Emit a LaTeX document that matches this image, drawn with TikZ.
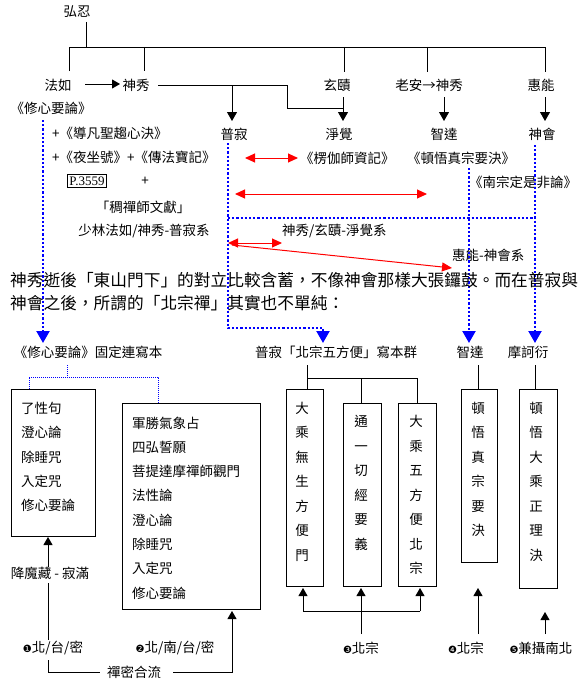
\documentclass[tikz,border=0pt]{standalone}
\usepackage{fontspec}
\setmainfont{Noto Sans CJK TC}
\newfontfamily\djv{DejaVu Sans}
\newfontfamily\tms{Liberation Serif}
\usetikzlibrary{arrows.meta}
\newcommand\cnum[1]{{\djv\fontsize{10}{12}\selectfont #1}}
\begin{document}
\begin{tikzpicture}[x=1pt,y=-1pt,
  lbl/.style={inner sep=0pt, font=\fontsize{13.5}{15}\selectfont},
  lblw/.style={lbl, anchor=west},
  para/.style={inner sep=0pt, anchor=west, font=\fontsize{16.7}{20}\selectfont},
  ln/.style={draw=black, line width=0.8pt},
  tipk/.style={ln, -{Triangle[length=9pt,width=10pt]}},
  tipks/.style={ln, -{Triangle[length=8pt,width=9pt]}},
  reda/.style={draw=red, line width=1pt, {Triangle[length=10pt,width=9pt]}-{Triangle[length=10pt,width=9pt]}},
  redb/.style={draw=red, line width=1pt, -{Triangle[length=10pt,width=9pt]}},
  bdot/.style={draw=blue, line width=2.2pt, dash pattern=on 2.2pt off 2pt},
  bdota/.style={bdot, -{Triangle[length=12pt,width=13pt]}},
  fdot/.style={draw=blue, line width=0.8pt, dash pattern=on 1pt off 1pt},
  box/.style={draw=black, line width=0.8pt, inner sep=0pt, anchor=north west},
  col/.style={inner sep=0pt, align=center, font=\fontsize{13.5}{24.5}\selectfont},
  rows/.style={inner sep=0pt, align=left, anchor=west, font=\fontsize{13.5}{24.4}\selectfont},
]
\useasboundingbox (0,0) rectangle (583,685);

% ---------- top lineage ----------
\node[lbl] (hongren) at (77,12) {弘忍};
\coordinate (hr1) at (86,22);
\coordinate (hr2) at (86,47);
\draw[ln] (hr1) -- (hr2);
\draw[ln] (69,71) -- (69,47) -- (545,47) -- (545,72);
\draw[ln] (144,47) -- (144,71);
\draw[ln] (344,47) -- (344,72);
\draw[ln] (427,47) -- (427,72);

\node[lbl] (faru) at (58,85) {法如};
\node[lbl] (shenxiu) at (136,85) {神秀};
\node[lbl] (xuanze) at (337,85) {玄賾};
\node[lbl] (laoan) at (429,85) {老安→神秀};
\node[lbl] (huineng) at (541,85) {惠能};
\node[lbl] (xxyl) at (51,108) {《修心要論》};

\draw[tipks] (85,84) -- (120,84);
\draw[ln] (158,85) -- (287,85) -- (287,108) -- (343,108);
\draw[tipk] (232,85) -- (232,121);
\draw[tipk] (343,97) -- (343,121);
\draw[tipk] (444,97) -- (444,121);
\draw[tipk] (545,97) -- (545,121);

\node[lbl] (puji) at (234,134) {普寂};
\node[lbl] (jingjue) at (339,134) {淨覺};
\node[lbl] (zhida) at (444,134) {智達};
\node[lbl] (shenhui) at (542,134) {神會};

% ---------- texts of the middle band ----------
\node[lblw] (t1) at (52,133) {+《導凡聖趨心決》};
\node[lblw] (t2) at (52,157) {+《夜坐號》+《傳法寶記》};
\node[draw, line width=0.8pt, inner sep=2pt, font=\tms\fontsize{13}{15}\selectfont] (p3559) at (87,181) {P.3559};
\node[lbl] (plus) at (145,181) {+};
\node[lbl] (chou) at (143,207) {「稠禪師文獻」};
\node[lbl] (sys1) at (144,231) {少林法如/神秀-普寂系};

\node[lblw] (lqszj) at (300,158) {《楞伽師資記》};
\node[lblw] (dwzzyj) at (407,158) {《頓悟真宗要決》};
\node[lblw] (nzdsfl) at (469,182) {《南宗定是非論》};
\node[lblw] (sys2) at (282,231) {神秀/玄賾-淨覺系};
\node[lblw] (sys3) at (452,255) {惠能-神會系};

% red arrows
\draw[reda] (245,158) -- (298,158);
\draw[reda] (235,194) -- (427,194);
\draw[reda] (228,243) -- (282,243);
\draw[redb] (232,245) -- (452,268);

% blue dotted
\draw[bdota] (43,120) -- (43,343);
\draw[bdota] (228,143) -- (228,328) -- (323,328) -- (323,343);
\draw[bdot] (228,218) -- (535,218);
\draw[bdota] (469,168) -- (469,343);
\draw[bdota] (535,145) -- (535,343);

% paragraph
\node[para] (p1) at (10,280) {神秀逝後「東山門下」的對立比較含蓄，不像神會那樣大張鑼鼓。而在普寂與};
\node[para] (p2) at (10,303) {神會之後，所謂的「北宗禪」其實也不單純：};

% ---------- lower part ----------
\node[lbl] (fixA) at (88,352) {《修心要論》固定連寫本};
\node[lblw] (fixB) at (255,352) {普寂「北宗五方便」寫本群};
\node[lbl] (zhida2) at (470,352) {智達};
\node[lbl] (mhy) at (528,352) {摩訶衍};

% boxes
\node[box, minimum width=84pt, minimum height=147pt] (bA) at (11,389) {};
\node[box, minimum width=138pt, minimum height=206pt] (bB) at (122,403) {};
\node[box, minimum width=37pt, minimum height=197pt] (bC1) at (286,389) {};
\node[box, minimum width=38pt, minimum height=183pt] (bC2) at (343,403) {};
\node[box, minimum width=38pt, minimum height=183pt] (bC3) at (398,403) {};
\node[box, minimum width=36pt, minimum height=173pt] (bD) at (461,389) {};
\node[box, minimum width=38pt, minimum height=199pt] (bE) at (519,389) {};

\node[rows] (txA) at (21,457) {了性句\\澄心論\\除睡咒\\入定咒\\修心要論};
\node[rows, font=\fontsize{13.5}{24.3}\selectfont] (txB) at (132,508) {軍勝氣象占\\四弘誓願\\菩提達摩禪師觀門\\法性論\\澄心論\\除睡咒\\入定咒\\修心要論};
\node[col] (txC1) at (302,481.5) {大\\乘\\無\\生\\方\\便\\門};
\node[col] (txC2) at (361,483) {通\\一\\切\\經\\要\\義};
\node[col] (txC3) at (416,495) {大\\乘\\五\\方\\便\\北\\宗};
\node[col] (txD) at (478,469.5) {頓\\悟\\真\\宗\\要\\決};
\node[col] (txE) at (536,481.5) {頓\\悟\\大\\乘\\正\\理\\決};

% connectors to boxes
\draw[fdot] (67,365) -- (67,377);
\draw[fdot] (29,389) -- (29,377) -- (158,377) -- (158,403);
\draw[ln] (307,365) -- (307,389);
\draw[ln] (307,378) -- (417,378) -- (417,403);
\draw[ln] (361,378) -- (361,403);
\draw[ln] (478,365) -- (478,389);
\draw[ln] (535,365) -- (535,389);

% bottom labels
\node[lbl] (xmz) at (50,573) {降魔藏 - 寂滿};
\node[lbl] (n1) at (53,648) {\cnum{❶}北/台/密};
\node[lbl] (n2) at (175,648) {\cnum{❷}北/南/台/密};
\node[lbl] (chanmi) at (134,672) {禪密合流};
\node[lbl] (n3) at (361,648) {\cnum{❸}北宗};
\node[lbl] (n4) at (466,648) {\cnum{❹}北宗};
\node[lbl] (n5) at (541,648) {\cnum{❺}兼攝南北};

\draw[tipks] (48,567) -- (48,537);
\draw[ln] (48,583) -- (48,640);
\draw[ln] (48,660) -- (48,672) -- (100,672);
\draw[tipks] (173,672) -- (232,672) -- (232,611);
\draw[tipks] (303,611) -- (303,588);
\draw[tipks] (420,611) -- (420,588);
\draw[ln] (303,611) -- (420,611);
\draw[tipks] (361,634) -- (361,588);
\draw[tipks] (478,634) -- (478,588);
\draw[tipks] (545,634) -- (545,612);
\end{tikzpicture}
\end{document}
